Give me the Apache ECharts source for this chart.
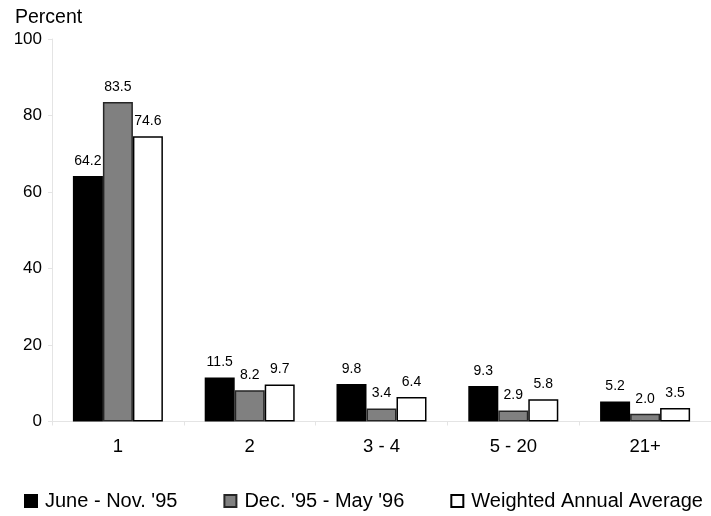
<!DOCTYPE html>
<html>
<head>
<meta charset="utf-8">
<script src="https://cdn.jsdelivr.net/npm/echarts@6/dist/echarts.min.js"></script>
<style>
  html, body { margin: 0; padding: 0; background: #fff; }
  #chart { width: 711px; height: 516px; }
</style>
</head>
<body>
<div id="chart"></div>
<script>
// Household size groups on the category axis
const categories = ['1', '2', '3 - 4', '5 - 20', '21+'];

// Percent of households in each group, per period
const juneNov95 = [64.2, 11.5, 9.8, 9.3, 5.2];
const dec95May96 = [83.5, 8.2, 3.4, 2.9, 2.0];
const weightedAnnual = [74.6, 9.7, 6.4, 5.8, 3.5];

const seriesNames = ["June - Nov. '95", "Dec. '95 - May '96", 'Weighted Annual Average'];

// Value axis ticks
const yTicks = [0, 20, 40, 60, 80, 100];

const FONT = '"Liberation Sans", Arial, Helvetica, sans-serif';
const faint = '#e4e4e4';

function barSeries(name, values, fill, border) {
  return {
    name: name,
    type: 'bar',
    data: values,
    barWidth: 30,
    barGap: '0%',
    itemStyle: { color: fill, borderColor: border, borderWidth: 1.5 },
    label: {
      show: true,
      position: 'top',
      distance: 8,
      color: '#000',
      fontFamily: FONT,
      fontSize: 14,
      formatter: p => p.value.toFixed(1)
    }
  };
}

const chart = echarts.init(document.getElementById('chart'), null, { renderer: 'canvas' });

chart.setOption({
  animation: false,
  backgroundColor: '#ffffff',
  textStyle: { fontFamily: FONT },
  title: {
    text: 'Percent',
    left: 10,
    top: 3,
    textStyle: { fontFamily: FONT, fontSize: 19.5, fontWeight: 'normal', color: '#000' }
  },
  legend: {
    data: seriesNames,
    left: 24,
    top: 491,
    width: 687,
    padding: 0,
    itemWidth: 12,
    itemHeight: 12,
    itemGap: 46,
    icon: 'rect',
    textStyle: { fontFamily: FONT, fontSize: 20, color: '#000', padding: [0, 0, 0, 3] }
  },
  grid: { left: 52, right: -6, top: 39, bottom: 94.5, containLabel: false },
  xAxis: {
    type: 'category',
    data: categories,
    axisLine: { lineStyle: { color: faint, width: 1 } },
    axisTick: { show: true, length: 4, lineStyle: { color: faint } },
    axisLabel: { color: '#000', fontFamily: FONT, fontSize: 18.5, margin: 16 }
  },
  yAxis: {
    type: 'value',
    min: yTicks[0],
    max: yTicks[yTicks.length - 1],
    interval: yTicks[1] - yTicks[0],
    axisLine: { show: true, lineStyle: { color: faint, width: 1 } },
    axisTick: { show: true, length: 4, lineStyle: { color: faint } },
    splitLine: { show: false },
    axisLabel: { color: '#000', fontFamily: FONT, fontSize: 17, margin: 10 }
  },
  series: [
    barSeries(seriesNames[0], juneNov95, '#000000', '#000000'),
    barSeries(seriesNames[1], dec95May96, '#808080', '#262626'),
    barSeries(seriesNames[2], weightedAnnual, '#ffffff', '#000000')
  ]
});
</script>
</body>
</html>
